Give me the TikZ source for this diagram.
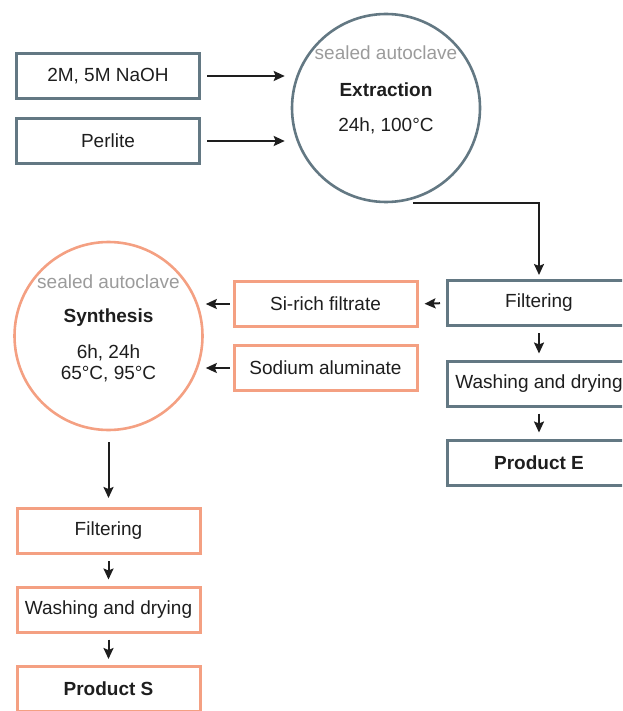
\documentclass[tikz,border=0pt]{standalone}
\usepackage{fontspec}
\setmainfont{Liberation Sans}
\usetikzlibrary{arrows.meta}

\definecolor{slate}{RGB}{99,120,131}
\definecolor{salmon}{RGB}{244,160,130}
\definecolor{lidgray}{RGB}{155,155,155}
\definecolor{ink}{RGB}{30,30,30}

\tikzset{
  stepbox/.style={draw, line width=3pt, minimum width=183pt, minimum height=45pt, inner sep=0pt, text=ink},
  autoclave/.style={draw, circle, line width=2.6pt, minimum size=188pt, inner sep=0pt},
  lidtext/.style={text=lidgray},
}

\begin{document}
\begin{tikzpicture}[x=1pt,y=-1pt,>={Stealth[length=11pt,width=10pt,inset=2pt]},font=\fontsize{19}{21}\selectfont]
    \useasboundingbox (0,0) rectangle (622,711);
    \clip (0,0) rectangle (622,711);

    % extraction
    \node[stepbox, slate] (naoh) at (108,76) {\textcolor{ink}{2M, 5M NaOH}};
    \node[stepbox, slate] (perlite) at (108,141) {\textcolor{ink}{Perlite}};
    \node[autoclave, slate] (ext) at (386,108) {};
    \node[lidtext] (ext-lid) at (386,53) {sealed autoclave};
    \node[text=ink, font=\fontsize{19}{21}\selectfont\bfseries] (ext-title) at (386,90) {Extraction};
    \node[text=ink] (ext-cond) at (386,126) {24h, 100°C};

    \node[stepbox, slate] (filter-e) at (539,303) {\textcolor{ink}{Filtering}};
    \node[stepbox, slate] (wash-e) at (539,383.5) {\textcolor{ink}{Washing and drying}};
    \node[stepbox, slate] (product-e) at (539,462.5) {\textcolor{ink}{\bfseries Product E}};

    % synthesis
    \node[stepbox, salmon] (filtrate) at (325.5,304) {\textcolor{ink}{Si-rich filtrate}};
    \node[stepbox, salmon] (aluminate) at (325.5,368) {\textcolor{ink}{Sodium aluminate}};
    \node[autoclave, salmon] (syn) at (108.5,336) {};
    \node[lidtext] (syn-lid) at (108.5,282) {sealed autoclave};
    \node[text=ink, font=\fontsize{19}{21}\selectfont\bfseries] (syn-title) at (108.5,318) {Synthesis};
    \node[text=ink, align=center] (syn-cond) at (108.5,363.5) {6h, 24h\\65°C, 95°C};

    \node[stepbox, salmon] (filter-s) at (108.5,531) {\textcolor{ink}{Filtering}};
    \node[stepbox, salmon] (wash-s) at (108.5,609.5) {\textcolor{ink}{Washing and drying}};
    \node[stepbox, salmon] (product-s) at (108.5,689) {\textcolor{ink}{\bfseries Product S}};

    \begin{scope}[line width=2pt, draw=ink]
    \draw[->, shorten <=6pt, shorten >=6pt] (naoh.east) -- (naoh.east -| ext.west);
    \draw[->, shorten <=6pt, shorten >=6pt] (perlite.east) -- (perlite.east -| ext.west);
    \draw[->, shorten >=4pt] ([xshift=27pt]ext.south) -| (filter-e.north);
    \draw[->, shorten <=6pt, shorten >=6pt] (filter-e.west) -- (filtrate.east);
    \draw[->, shorten <=6pt, shorten >=6pt] (filter-e) -- (wash-e);
    \draw[->, shorten <=6pt, shorten >=6pt] (wash-e) -- (product-e);
    \draw[->, shorten <=3pt, shorten >=2pt] (filtrate.west) -- (filtrate.west -| syn.east);
    \draw[->, shorten <=3pt, shorten >=2pt] (aluminate.west) -- (aluminate.west -| syn.east);
    \draw[->, shorten <=11pt, shorten >=9pt] (syn) -- (filter-s);
    \draw[->, shorten <=6pt, shorten >=6pt] (filter-s) -- (wash-s);
    \draw[->, shorten <=6pt, shorten >=6pt] (wash-s) -- (product-s);
    \end{scope}
\end{tikzpicture}
\end{document}
